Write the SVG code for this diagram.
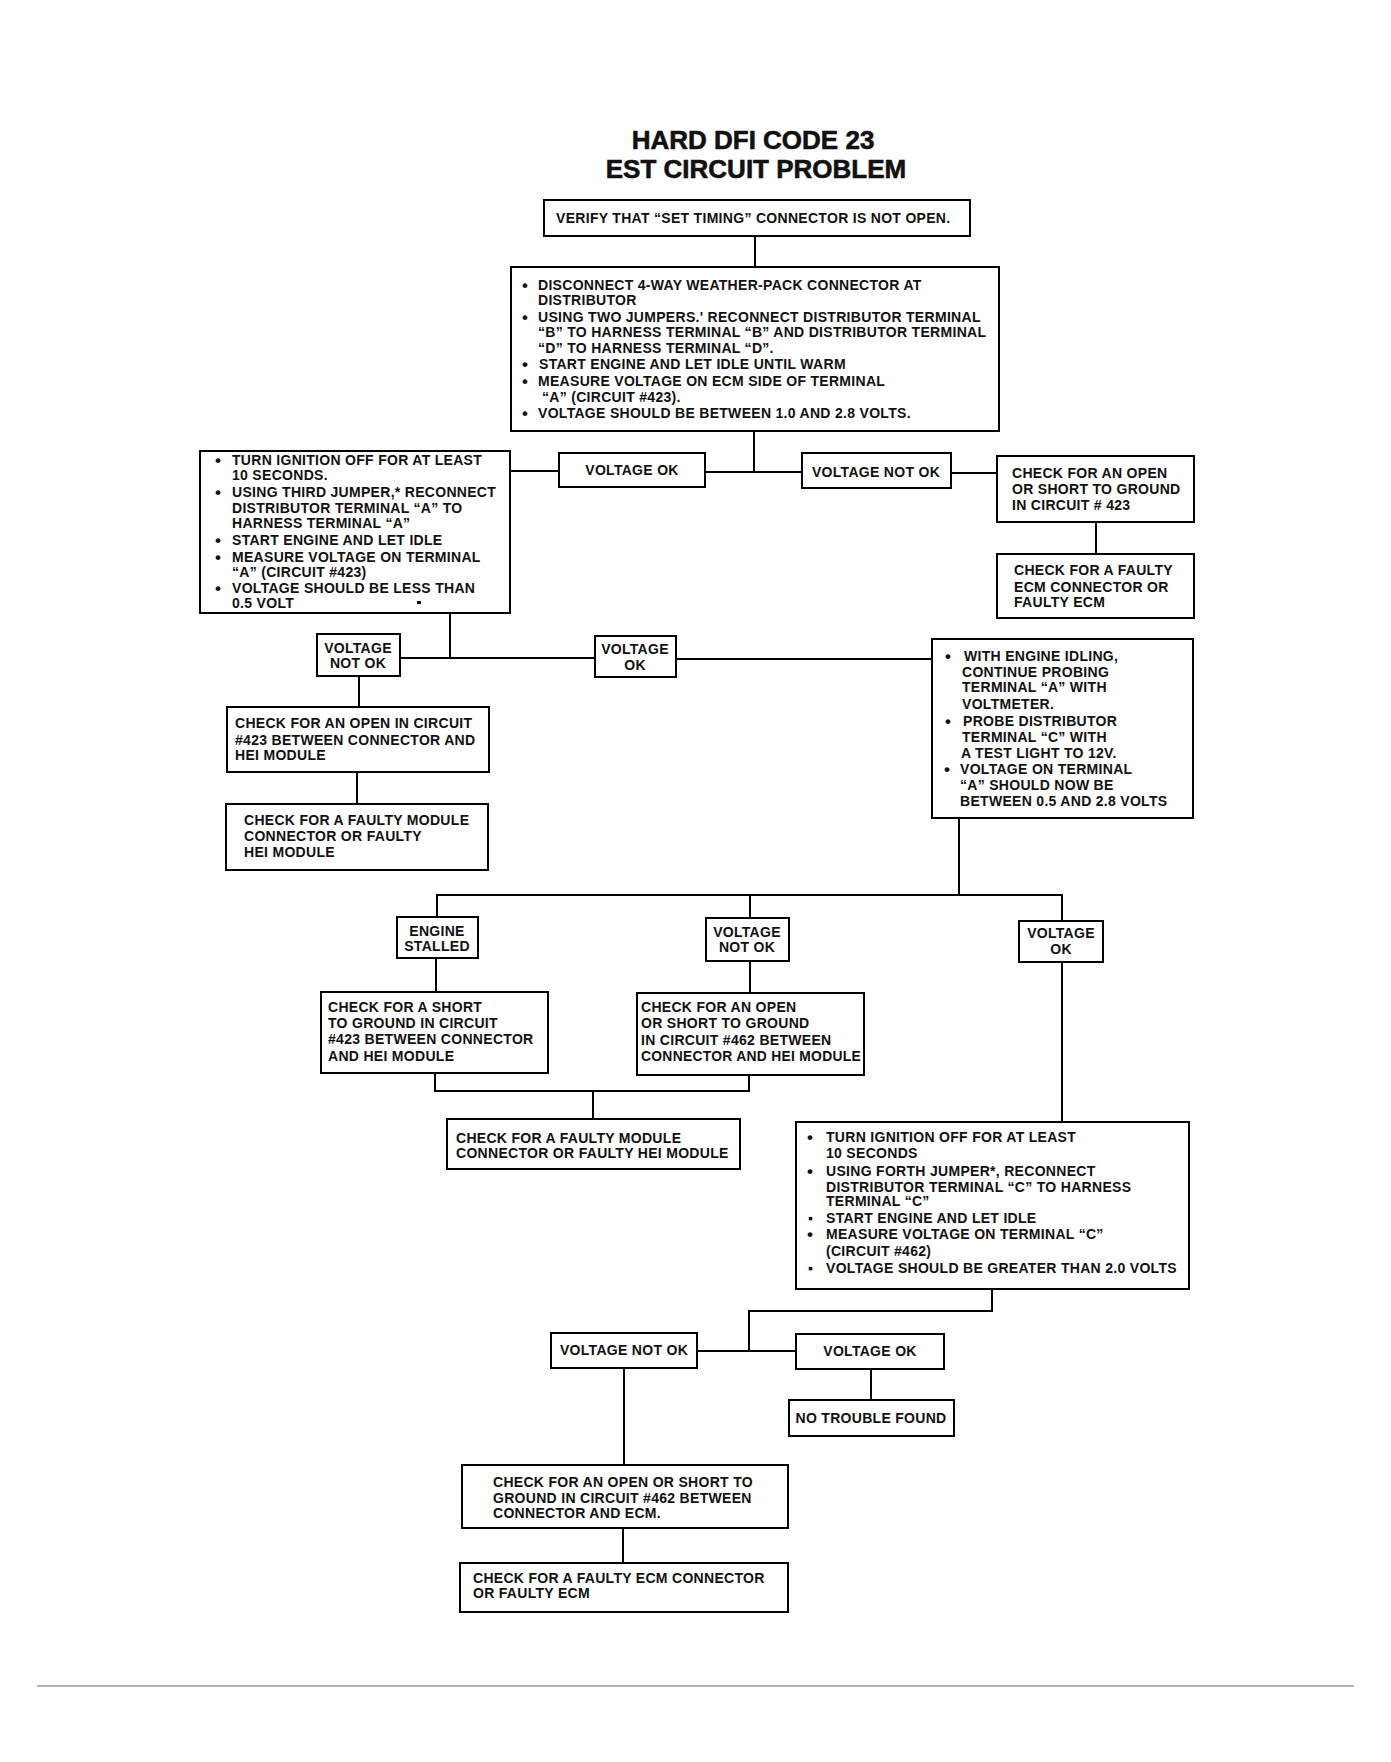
<svg xmlns="http://www.w3.org/2000/svg" width="1391" height="1762" viewBox="0 0 1391 1762">
<style>
.b{fill:#fff;stroke:#000;stroke-width:2}
.t{font-family:"Liberation Sans",Arial,sans-serif;font-size:14px;font-weight:bold;letter-spacing:0.3px;fill:#111}
.bu{font-size:17px}
.c{text-anchor:middle}
.h{font-family:"Liberation Sans",Arial,sans-serif;font-size:26px;font-weight:bold;fill:#111;stroke:#111;stroke-width:0.6;text-anchor:middle}
.ln{stroke:#000;stroke-width:2;fill:none}
</style>
<rect width="1391" height="1762" fill="#fff"/>
<g id="title">
<text class="h" x="753" y="149">HARD DFI CODE 23</text>
<text class="h" x="756" y="178">EST CIRCUIT PROBLEM</text>
</g>
<g id="connectors">
<path class="ln" d="M755,236V267"/>
<path class="ln" d="M754,431V472"/>
<path class="ln" d="M510,471H559"/>
<path class="ln" d="M705,472H802"/>
<path class="ln" d="M951,473H997"/>
<path class="ln" d="M1096,522V554"/>
<path class="ln" d="M450,613V659"/>
<path class="ln" d="M400,658H595"/>
<path class="ln" d="M676,659H932"/>
<path class="ln" d="M359,676V707"/>
<path class="ln" d="M357,772V804"/>
<path class="ln" d="M959,818V895"/>
<path class="ln" d="M437,917V895H1062V921"/>
<path class="ln" d="M750,895V918"/>
<path class="ln" d="M436,958V992"/>
<path class="ln" d="M750,961V993"/>
<path class="ln" d="M435,1073V1091H749V1075"/>
<path class="ln" d="M593,1091V1119"/>
<path class="ln" d="M1062,962V1122"/>
<path class="ln" d="M992,1289V1311H749V1351"/>
<path class="ln" d="M697,1351H796"/>
<path class="ln" d="M871,1369V1400"/>
<path class="ln" d="M624,1368V1465"/>
<path class="ln" d="M623,1528V1563"/>
</g>
<g id="n_verify">
<rect class="b" x="544" y="200" width="426" height="36"/>
<text class="t" x="556" y="223">VERIFY THAT “SET TIMING” CONNECTOR IS NOT OPEN.</text>
</g>
<g id="n_disconnect">
<rect class="b" x="511" y="267" width="488" height="164"/>
<text class="t">
<tspan class="bu" x="522" y="291">•</tspan><tspan x="538" y="290">DISCONNECT 4-WAY WEATHER-PACK CONNECTOR AT</tspan>
<tspan x="538" y="305">DISTRIBUTOR</tspan>
<tspan class="bu" x="522" y="323">•</tspan><tspan x="538" y="322">USING TWO JUMPERS.' RECONNECT DISTRIBUTOR TERMINAL</tspan>
<tspan x="538" y="337">“B” TO HARNESS TERMINAL “B” AND DISTRIBUTOR TERMINAL</tspan>
<tspan x="538" y="353">“D” TO HARNESS TERMINAL “D”.</tspan>
<tspan class="bu" x="522" y="370">•</tspan><tspan x="539" y="369">START ENGINE AND LET IDLE UNTIL WARM</tspan>
<tspan class="bu" x="522" y="387">•</tspan><tspan x="538" y="386">MEASURE VOLTAGE ON ECM SIDE OF TERMINAL</tspan>
<tspan x="542" y="402">“A” (CIRCUIT #423).</tspan>
<tspan class="bu" x="522" y="419">•</tspan><tspan x="538" y="418">VOLTAGE SHOULD BE BETWEEN 1.0 AND 2.8 VOLTS.</tspan>
</text>
</g>
<g id="n_third_jumper">
<rect class="b" x="200" y="451" width="310" height="162"/>
<text class="t">
<tspan class="bu" x="215" y="466">•</tspan><tspan x="232" y="465">TURN IGNITION OFF FOR AT LEAST</tspan>
<tspan x="232" y="480">10 SECONDS.</tspan>
<tspan class="bu" x="215" y="498">•</tspan><tspan x="232" y="497">USING THIRD JUMPER,* RECONNECT</tspan>
<tspan x="232" y="513">DISTRIBUTOR TERMINAL “A” TO</tspan>
<tspan x="232" y="528">HARNESS TERMINAL “A”</tspan>
<tspan class="bu" x="215" y="546">•</tspan><tspan x="232" y="545">START ENGINE AND LET IDLE</tspan>
<tspan class="bu" x="215" y="563">•</tspan><tspan x="232" y="562">MEASURE VOLTAGE ON TERMINAL</tspan>
<tspan x="232" y="577">“A” (CIRCUIT #423)</tspan>
<tspan class="bu" x="215" y="594">•</tspan><tspan x="232" y="593">VOLTAGE SHOULD BE LESS THAN</tspan>
<tspan x="232" y="608">0.5 VOLT</tspan>
</text>
<rect x="417" y="601" width="4" height="3" fill="#111"/>
</g>
<g id="n_vok1">
<rect class="b" x="559" y="453" width="146" height="34"/>
<text class="t c" x="632" y="475">VOLTAGE OK</text>
</g>
<g id="n_vnok1">
<rect class="b" x="802" y="453" width="149" height="35"/>
<text class="t c" x="876" y="477">VOLTAGE NOT OK</text>
</g>
<g id="n_open423">
<rect class="b" x="997" y="456" width="197" height="66"/>
<text class="t">
<tspan x="1012" y="478">CHECK FOR AN OPEN</tspan>
<tspan x="1012" y="494">OR SHORT TO GROUND</tspan>
<tspan x="1012" y="510">IN CIRCUIT # 423</tspan>
</text>
</g>
<g id="n_faulty_ecm1">
<rect class="b" x="997" y="554" width="197" height="64"/>
<text class="t">
<tspan x="1014" y="575">CHECK FOR A FAULTY</tspan>
<tspan x="1014" y="592">ECM CONNECTOR OR</tspan>
<tspan x="1014" y="607">FAULTY ECM</tspan>
</text>
</g>
<g id="n_vnok2">
<rect class="b" x="317" y="634" width="83" height="42"/>
<text class="t c"><tspan x="358" y="653">VOLTAGE</tspan><tspan x="358" y="668">NOT OK</tspan></text>
</g>
<g id="n_vok2">
<rect class="b" x="595" y="636" width="81" height="41"/>
<text class="t c"><tspan x="635" y="654">VOLTAGE</tspan><tspan x="635" y="670">OK</tspan></text>
</g>
<g id="n_idling">
<rect class="b" x="932" y="639" width="261" height="179"/>
<text class="t">
<tspan class="bu" x="945" y="662">•</tspan><tspan x="964" y="661">WITH ENGINE IDLING,</tspan>
<tspan x="962" y="677">CONTINUE PROBING</tspan>
<tspan x="962" y="692">TERMINAL “A” WITH</tspan>
<tspan x="962" y="709">VOLTMETER.</tspan>
<tspan class="bu" x="945" y="727">•</tspan><tspan x="963" y="726">PROBE DISTRIBUTOR</tspan>
<tspan x="962" y="742">TERMINAL “C” WITH</tspan>
<tspan x="961" y="758">A TEST LIGHT TO 12V.</tspan>
<tspan class="bu" x="944" y="775">•</tspan><tspan x="960" y="774">VOLTAGE ON TERMINAL</tspan>
<tspan x="960" y="790">“A” SHOULD NOW BE</tspan>
<tspan x="960" y="806">BETWEEN 0.5 AND 2.8 VOLTS</tspan>
</text>
</g>
<g id="n_open_circuit423">
<rect class="b" x="227" y="707" width="262" height="65"/>
<text class="t">
<tspan x="235" y="728">CHECK FOR AN OPEN IN CIRCUIT</tspan>
<tspan x="235" y="745">#423 BETWEEN CONNECTOR AND</tspan>
<tspan x="235" y="760">HEI MODULE</tspan>
</text>
</g>
<g id="n_faulty_module1">
<rect class="b" x="226" y="804" width="262" height="66"/>
<text class="t">
<tspan x="244" y="825">CHECK FOR A FAULTY MODULE</tspan>
<tspan x="244" y="841">CONNECTOR OR FAULTY</tspan>
<tspan x="244" y="857">HEI MODULE</tspan>
</text>
</g>
<g id="n_engine_stalled">
<rect class="b" x="397" y="917" width="81" height="41"/>
<text class="t c"><tspan x="437" y="936">ENGINE</tspan><tspan x="437" y="951">STALLED</tspan></text>
</g>
<g id="n_vnok3">
<rect class="b" x="706" y="918" width="83" height="43"/>
<text class="t c"><tspan x="747" y="937">VOLTAGE</tspan><tspan x="747" y="952">NOT OK</tspan></text>
</g>
<g id="n_vok3">
<rect class="b" x="1019" y="921" width="84" height="41"/>
<text class="t c"><tspan x="1061" y="938">VOLTAGE</tspan><tspan x="1061" y="954">OK</tspan></text>
</g>
<g id="n_short423">
<rect class="b" x="321" y="992" width="227" height="81"/>
<text class="t">
<tspan x="328" y="1012">CHECK FOR A SHORT</tspan>
<tspan x="328" y="1028">TO GROUND IN CIRCUIT</tspan>
<tspan x="328" y="1044">#423 BETWEEN CONNECTOR</tspan>
<tspan x="328" y="1061">AND HEI MODULE</tspan>
</text>
</g>
<g id="n_open462">
<rect class="b" x="637" y="993" width="227" height="82"/>
<text class="t">
<tspan x="641" y="1012">CHECK FOR AN OPEN</tspan>
<tspan x="641" y="1028">OR SHORT TO GROUND</tspan>
<tspan x="641" y="1045">IN CIRCUIT #462 BETWEEN</tspan>
<tspan x="641" y="1061" textLength="220" lengthAdjust="spacingAndGlyphs">CONNECTOR AND HEI MODULE</tspan>
</text>
</g>
<g id="n_faulty_module2">
<rect class="b" x="447" y="1119" width="293" height="50"/>
<text class="t">
<tspan x="456" y="1143">CHECK FOR A FAULTY MODULE</tspan>
<tspan x="456" y="1158">CONNECTOR OR FAULTY HEI MODULE</tspan>
</text>
</g>
<g id="n_forth_jumper">
<rect class="b" x="796" y="1122" width="393" height="167"/>
<text class="t">
<tspan class="bu" x="807" y="1143">•</tspan><tspan x="826" y="1142">TURN IGNITION OFF FOR AT LEAST</tspan>
<tspan x="826" y="1158">10 SECONDS</tspan>
<tspan class="bu" x="807" y="1177">•</tspan><tspan x="826" y="1176">USING FORTH JUMPER*, RECONNECT</tspan>
<tspan x="826" y="1192">DISTRIBUTOR TERMINAL “C” TO HARNESS</tspan>
<tspan x="826" y="1206">TERMINAL “C”</tspan>
<tspan x="808" y="1223">▪</tspan><tspan x="826" y="1223">START ENGINE AND LET IDLE</tspan>
<tspan class="bu" x="807" y="1240">•</tspan><tspan x="826" y="1239">MEASURE VOLTAGE ON TERMINAL “C”</tspan>
<tspan x="826" y="1256">(CIRCUIT #462)</tspan>
<tspan x="808" y="1273">▪</tspan><tspan x="826" y="1273">VOLTAGE SHOULD BE GREATER THAN 2.0 VOLTS</tspan>
</text>
</g>
<g id="n_vnok4">
<rect class="b" x="551" y="1333" width="146" height="35"/>
<text class="t c" x="624" y="1355">VOLTAGE NOT OK</text>
</g>
<g id="n_vok4">
<rect class="b" x="796" y="1334" width="148" height="35"/>
<text class="t c" x="870" y="1356">VOLTAGE OK</text>
</g>
<g id="n_no_trouble">
<rect class="b" x="789" y="1400" width="165" height="36"/>
<text class="t c" x="871" y="1423">NO TROUBLE FOUND</text>
</g>
<g id="n_open462_ecm">
<rect class="b" x="462" y="1465" width="326" height="63"/>
<text class="t">
<tspan x="493" y="1487">CHECK FOR AN OPEN OR SHORT TO</tspan>
<tspan x="493" y="1503">GROUND IN CIRCUIT #462 BETWEEN</tspan>
<tspan x="493" y="1518">CONNECTOR AND ECM.</tspan>
</text>
</g>
<g id="n_faulty_ecm2">
<rect class="b" x="460" y="1563" width="328" height="49"/>
<text class="t">
<tspan x="473" y="1583">CHECK FOR A FAULTY ECM CONNECTOR</tspan>
<tspan x="473" y="1598">OR FAULTY ECM</tspan>
</text>
</g>
<line x1="37" y1="1686" x2="1354" y2="1686" stroke="#666" stroke-width="1"/>
</svg>
